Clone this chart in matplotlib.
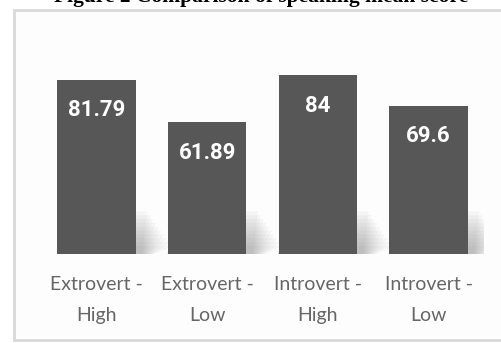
import matplotlib.pyplot as plt
from matplotlib.patches import Rectangle, Polygon

# speaking mean score per group
groups = ['Extrovert -\nHigh', 'Extrovert -\nLow', 'Introvert -\nHigh', 'Introvert -\nLow']
scores = [81.79, 61.89, 84, 69.6]
score_labels = ['81.79', '61.89', '84', '69.6']

fig = plt.figure(figsize=(5.02, 3.43), dpi=100)
fig.patch.set_facecolor('white')

# light grey frame of the chart area
frame = Rectangle((14 / 502, 3 / 343), 1.2, 330 / 343, transform=fig.transFigure,
                  facecolor='#fdfdfd', edgecolor='#d9d9d9', linewidth=2.0, zorder=-5)
fig.patches.append(frame)

fig.text(0.52, 1.008, 'Figure 2 Comparison of speaking mean score', ha='center', va='center',
         fontsize=15.5, fontweight='bold', family='Liberation Serif', color='black')

ax = fig.add_axes([0.082, 0.2595, 0.882, 0.621], zorder=2)
ax.set_xlim(-0.5, 3.5)
ax.set_ylim(0, 100)
ax.patch.set_alpha(0)

x = list(range(len(groups)))

# soft shadow behind the bars
for xi in x:
    for k in range(10):
        h = 20 - k * 1.8
        dx = 0.1 + k * 0.025
        poly = Polygon([(xi - 0.36, 0), (xi + 0.36 + dx * 0.5, 0), (xi + 0.36 + dx, h),
                        (xi - 0.36 + dx, h)], closed=True,
                       facecolor='#7a7a7a', alpha=0.06, edgecolor='none', zorder=1)
        ax.add_patch(poly)

bars = ax.bar(x, scores, width=0.71, color='#575757', zorder=2)

for b, lab in zip(bars, score_labels):
    ax.annotate(lab, (b.get_x() + b.get_width() / 2, b.get_height()),
                xytext=(0, -22), textcoords='offset points', ha='center', va='center',
                color='white', fontsize=16, fontweight='bold', family='Roboto', zorder=3)

ax.set_xticks(x)
ax.set_xticklabels(groups, fontsize=14, family='Lato', color='#666666', linespacing=1.95)
ax.tick_params(axis='x', length=0, pad=16)
ax.set_yticks([])
for s in ax.spines.values():
    s.set_visible(False)

fig.savefig('out.png', dpi=100)
